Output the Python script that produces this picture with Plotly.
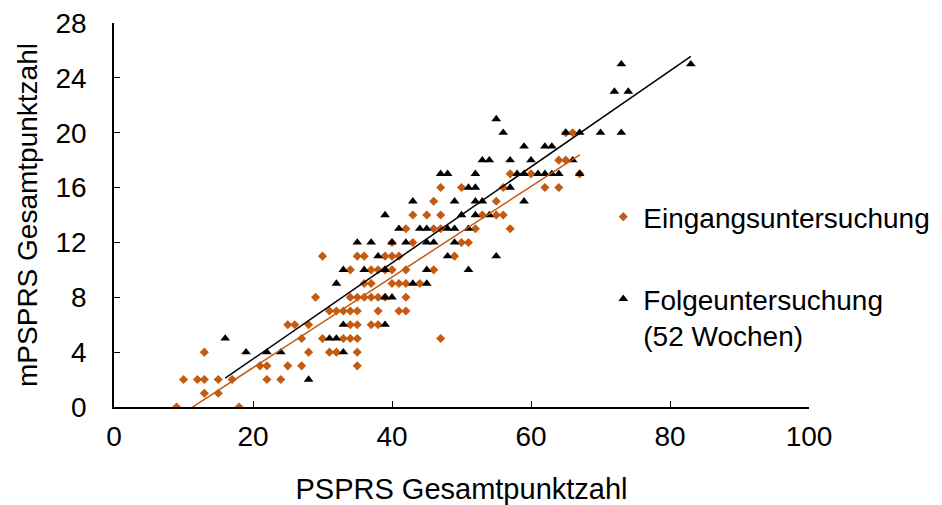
import numpy as np
import plotly.graph_objects as go

# Eingangsuntersuchung (orange diamonds): PSPRS x, mPSPRS y
ein_x = [9, 18,
         13, 15,
         10, 12, 13, 15, 17, 22, 24,
         21, 22, 25, 27, 35,
         13, 28, 31, 32, 35,
         27, 30, 33, 34, 35, 47,
         25, 26, 28, 34, 35, 37, 38,
         31, 32, 33, 34, 35, 38, 41, 42,
         29, 34, 35, 36, 37, 38, 39, 42,
         36, 37, 40, 41, 42, 44,
         34, 37, 38, 39, 40, 42, 46,
         30, 35, 36, 39, 40, 41, 49,
         40, 43, 50, 51,
         42, 46, 47, 52, 57,
         43, 45, 47, 53, 55, 56,
         46, 55,
         47, 50, 56, 62, 64,
         57, 60, 67,
         64, 65,
         65, 66]
ein_y = [0, 0,
         1, 1,
         2, 2, 2, 2, 2, 2, 2,
         3, 3, 3, 3, 3,
         4, 4, 4, 4, 4,
         5, 5, 5, 5, 5, 5,
         6, 6, 6, 6, 6, 6, 6,
         7, 7, 7, 7, 7, 7, 7, 7,
         8, 8, 8, 8, 8, 8, 8, 8,
         9, 9, 9, 9, 9, 9,
         10, 10, 10, 10, 10, 10, 10,
         11, 11, 11, 11, 11, 11, 11,
         12, 12, 12, 12,
         13, 13, 13, 13, 13,
         14, 14, 14, 14, 14, 14,
         15, 15,
         16, 16, 16, 16, 16,
         17, 17, 17,
         18, 18,
         20, 20]

# Folgeuntersuchung (52 Wochen) (black triangles)
fol_x = [28,
         19, 22, 24, 33,
         16, 31, 32,
         33, 39,
         39, 40,
         32, 43, 45,
         33, 36, 39, 45, 51,
         38, 48, 55,
         35, 37, 40, 42, 45, 46, 49,
         41, 44, 45, 48, 49, 51,
         39, 50, 52, 54,
         43, 49, 52, 53, 59,
         51, 52, 57,
         47, 48, 52, 58, 59, 61, 62, 63, 64, 67,
         53, 54, 57, 60, 66,
         59, 62, 63,
         56, 65, 67, 70, 73,
         55,
         72, 74,
         73, 83]
fol_y = [2,
         4, 4, 4, 4,
         5, 5, 5,
         6, 6,
         8, 8,
         9, 9, 9,
         10, 10, 10, 10, 10,
         11, 11, 11,
         12, 12, 12, 12, 12, 12, 12,
         13, 13, 13, 13, 13, 13,
         14, 14, 14, 14,
         15, 15, 15, 15, 15,
         16, 16, 16,
         17, 17, 17, 17, 17, 17, 17, 17, 17, 17,
         18, 18, 18, 18, 18,
         19, 19, 19,
         20, 20, 20, 20, 20,
         21,
         23, 23,
         25, 25]

x_ticks = [0, 20, 40, 60, 80, 100]
y_ticks = [0, 4, 8, 12, 16, 20, 24, 28]

ORANGE = "#C55A11"
FONT = "Arial, 'Liberation Sans', sans-serif"


def fit_line(xs, ys):
    m, b = np.polyfit(xs, ys, 1)
    lx = np.array([min(xs), max(xs)], dtype=float)
    return lx, m * lx + b


fig = go.Figure()

ox, oy = fit_line(ein_x, ein_y)
bx, by = fit_line(fol_x, fol_y)

fig.add_trace(go.Scatter(x=ein_x, y=ein_y, mode="markers", name="Eingangsuntersuchung",
                         marker=dict(symbol="diamond", size=7, color=ORANGE),
                         legend="legend"))
fig.add_trace(go.Scatter(x=fol_x, y=fol_y, mode="markers", name="Folgeuntersuchung<br>(52 Wochen)",
                         marker=dict(symbol="triangle-up", size=8.5, color="black"),
                         legend="legend2"))
fig.add_trace(go.Scatter(x=ox, y=oy, mode="lines", showlegend=False,
                         line=dict(color=ORANGE, width=1.5)))
fig.add_trace(go.Scatter(x=bx, y=by, mode="lines", showlegend=False,
                         line=dict(color="black", width=1.5)))

fig.update_layout(
    width=942, height=505,
    margin=dict(l=114, r=133, t=23, b=98, autoexpand=False),
    paper_bgcolor="white", plot_bgcolor="white",
    font=dict(family=FONT, size=28, color="black"),
    legend=dict(x=0.704, y=0.56, xanchor="left", yanchor="top",
                font=dict(size=28), bgcolor="rgba(0,0,0,0)", itemwidth=30),
    legend2=dict(x=0.704, y=0.346, xanchor="left", yanchor="top", valign="top",
                 font=dict(size=28), bgcolor="rgba(0,0,0,0)", itemwidth=30),
)
fig.update_xaxes(range=[0, 100], tickvals=x_ticks, ticks="inside", ticklen=6,
                 tickcolor="black", showline=True, linecolor="black", linewidth=1.5,
                 showgrid=False, zeroline=False, mirror=False, ticklabelstandoff=4,
                 automargin=False,
                 title=dict(text="PSPRS Gesamtpunktzahl", font=dict(size=29), standoff=27),
                 tickfont=dict(size=28))
fig.update_yaxes(range=[0, 28], tickvals=y_ticks, ticks="inside", ticklen=6,
                 tickcolor="black", showline=True, linecolor="black", linewidth=1.5,
                 showgrid=False, zeroline=False, mirror=False, ticklabelstandoff=20,
                 automargin=False,
                 title=dict(text="mPSPRS Gesamtpunktzahl", font=dict(size=28), standoff=10),
                 tickfont=dict(size=28))

fig.write_html("out.html")
